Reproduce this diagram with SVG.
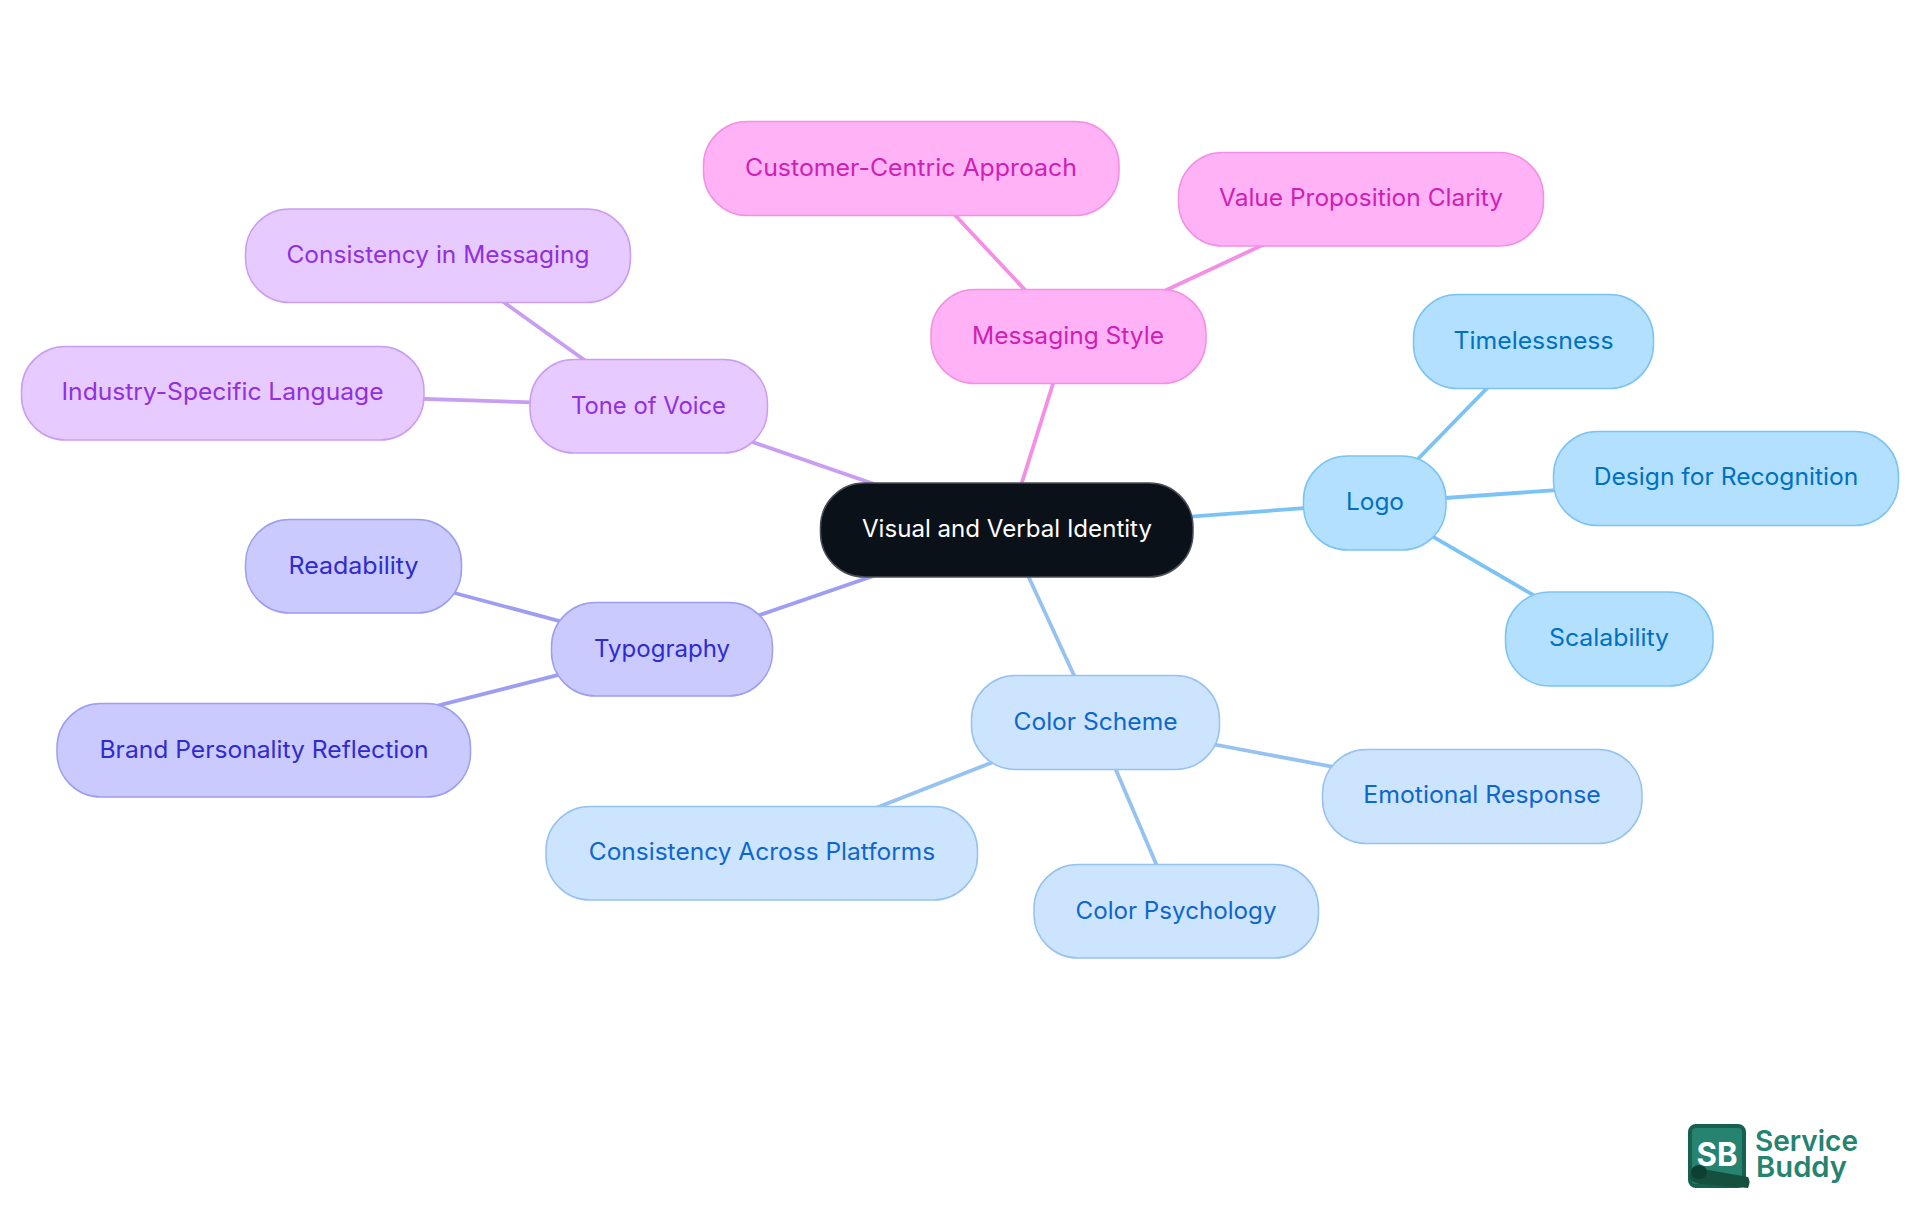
<svg xmlns="http://www.w3.org/2000/svg" width="1920" height="1215" viewBox="0 0 1920 1215">
<style>
text{font-family:"Inter","Liberation Sans",sans-serif;font-size:24px;text-anchor:middle}
rect.n{stroke-width:1.5}
line{stroke-width:3.8;fill:none}
.logo rect.n{fill:#b3e0ff;stroke:#7cc3f5}.logo text{fill:#0070c0}
.cs rect.n{fill:#cce4fd;stroke:#96c2f2}.cs text{fill:#0e66cf}
.ty rect.n{fill:#cacaff;stroke:#9d9df2}.ty text{fill:#2f2bd0}
.tv rect.n{fill:#e7caff;stroke:#c99df2}.tv text{fill:#9130dc}
.ms rect.n{fill:#ffb3f6;stroke:#f58fe5}.ms text{fill:#cf20b5}
.rt rect.n{fill:#0b1118;stroke:#4a4e54}.rt text{fill:#fff}
.el{stroke:#7cc3f5}.ec{stroke:#96c2f2}.et{stroke:#9d9df2}.ev{stroke:#c99df2}.em{stroke:#f58fe5}
.brand{font-size:29px;font-weight:600;fill:#26836f;text-anchor:start}
</style>
<g id="connectors">
<line class="el" x1="1007" y1="530" x2="1375" y2="503"/>
<line class="el" x1="1375" y1="503" x2="1533" y2="341"/>
<line class="el" x1="1375" y1="503" x2="1726" y2="478"/>
<line class="el" x1="1375" y1="503" x2="1609" y2="639"/>
<line class="ec" x1="1007" y1="530" x2="1095.500" y2="722"/>
<line class="ec" x1="1095.500" y1="722" x2="1482" y2="795"/>
<line class="ec" x1="1095.500" y1="722" x2="1176" y2="910.500"/>
<line class="ec" x1="1095.500" y1="722" x2="762" y2="852.500"/>
<line class="et" x1="1007" y1="530" x2="662" y2="648.500"/>
<line class="et" x1="662" y1="648.500" x2="353.500" y2="566"/>
<line class="et" x1="662" y1="648.500" x2="263.500" y2="750"/>
<line class="ev" x1="1007" y1="530" x2="648.500" y2="406"/>
<line class="ev" x1="648.500" y1="406" x2="438" y2="255"/>
<line class="ev" x1="648.500" y1="406" x2="223" y2="392.500"/>
<line class="em" x1="1007" y1="530" x2="1068" y2="336"/>
<line class="em" x1="1068" y1="336" x2="911" y2="168"/>
<line class="em" x1="1068" y1="336" x2="1361" y2="199"/>
</g>
<g id="root" class="rt"><rect class="n" x="820.500" y="483" width="372.500" height="94" rx="44"/><text x="1007" y="537" textLength="290" lengthAdjust="spacingAndGlyphs">Visual and Verbal Identity</text></g>
<g id="logo" class="logo"><rect class="n" x="1303.500" y="456" width="142.500" height="94" rx="44"/><text x="1375" y="510" textLength="58" lengthAdjust="spacingAndGlyphs">Logo</text></g>
<g id="timelessness" class="logo"><rect class="n" x="1413.500" y="294.500" width="240" height="94" rx="44"/><text x="1533.500" y="349" textLength="160" lengthAdjust="spacingAndGlyphs">Timelessness</text></g>
<g id="design" class="logo"><rect class="n" x="1553.500" y="431.500" width="345" height="94" rx="44"/><text x="1726" y="485" textLength="264.500" lengthAdjust="spacingAndGlyphs">Design for Recognition</text></g>
<g id="scalability" class="logo"><rect class="n" x="1505.500" y="592" width="207.500" height="94" rx="44"/><text x="1609" y="646" textLength="120" lengthAdjust="spacingAndGlyphs">Scalability</text></g>
<g id="color-scheme" class="cs"><rect class="n" x="971.500" y="675.500" width="248" height="94" rx="44"/><text x="1095.500" y="730" textLength="164" lengthAdjust="spacingAndGlyphs">Color Scheme</text></g>
<g id="emotional" class="cs"><rect class="n" x="1322.500" y="749.500" width="319.500" height="94" rx="44"/><text x="1482" y="803" textLength="237.500" lengthAdjust="spacingAndGlyphs">Emotional Response</text></g>
<g id="psychology" class="cs"><rect class="n" x="1034" y="864.500" width="284.500" height="93.500" rx="44"/><text x="1176" y="919" textLength="201" lengthAdjust="spacingAndGlyphs">Color Psychology</text></g>
<g id="across" class="cs"><rect class="n" x="546" y="806.500" width="431.500" height="93.500" rx="44"/><text x="762" y="860" textLength="346.500" lengthAdjust="spacingAndGlyphs">Consistency Across Platforms</text></g>
<g id="typography" class="ty"><rect class="n" x="551.500" y="602.500" width="221" height="93.500" rx="44"/><text x="662" y="657" textLength="136" lengthAdjust="spacingAndGlyphs">Typography</text></g>
<g id="readability" class="ty"><rect class="n" x="245.500" y="519.500" width="216" height="93.500" rx="44"/><text x="353.500" y="574" textLength="130" lengthAdjust="spacingAndGlyphs">Readability</text></g>
<g id="brand-personality" class="ty"><rect class="n" x="57" y="703.500" width="413.500" height="93.500" rx="44"/><text x="264" y="758" textLength="329" lengthAdjust="spacingAndGlyphs">Brand Personality Reflection</text></g>
<g id="tone" class="tv"><rect class="n" x="530" y="359.500" width="237.500" height="93.500" rx="44"/><text x="648.500" y="414" textLength="155" lengthAdjust="spacingAndGlyphs">Tone of Voice</text></g>
<g id="consistency-messaging" class="tv"><rect class="n" x="245.500" y="209" width="385" height="93.500" rx="44"/><text x="438" y="263" textLength="303" lengthAdjust="spacingAndGlyphs">Consistency in Messaging</text></g>
<g id="industry" class="tv"><rect class="n" x="21.500" y="346.500" width="402.500" height="93.500" rx="44"/><text x="222.500" y="400" textLength="322" lengthAdjust="spacingAndGlyphs">Industry-Specific Language</text></g>
<g id="messaging" class="ms"><rect class="n" x="931" y="289.500" width="275" height="94" rx="44"/><text x="1068" y="344" textLength="192" lengthAdjust="spacingAndGlyphs">Messaging Style</text></g>
<g id="customer" class="ms"><rect class="n" x="703.500" y="121.500" width="415.500" height="94" rx="44"/><text x="911" y="176" textLength="332" lengthAdjust="spacingAndGlyphs">Customer-Centric Approach</text></g>
<g id="value" class="ms"><rect class="n" x="1178.500" y="152.500" width="365" height="93.500" rx="44"/><text x="1361" y="206" textLength="284" lengthAdjust="spacingAndGlyphs">Value Proposition Clarity</text></g>
<g id="service-buddy-logo">
<rect x="1690" y="1126" width="54" height="60" rx="6" fill="#26836f" stroke="#17604f" stroke-width="4"/>
<path d="M1697 1168L1748 1177Q1751 1181 1748 1188L1700 1184Q1690 1183 1690 1175Z" fill="#15503f"/>
<ellipse cx="1699" cy="1172" rx="8" ry="7" fill="#0f3f33"/>
<text x="1717" y="1166" fill="#fff" style="font-size:32px;font-weight:700" textLength="41" lengthAdjust="spacingAndGlyphs">SB</text>
<text class="brand" x="1755" y="1151" textLength="103" lengthAdjust="spacingAndGlyphs">Service</text>
<text class="brand" x="1756" y="1177" textLength="91" lengthAdjust="spacingAndGlyphs">Buddy</text>
</g>
</svg>
